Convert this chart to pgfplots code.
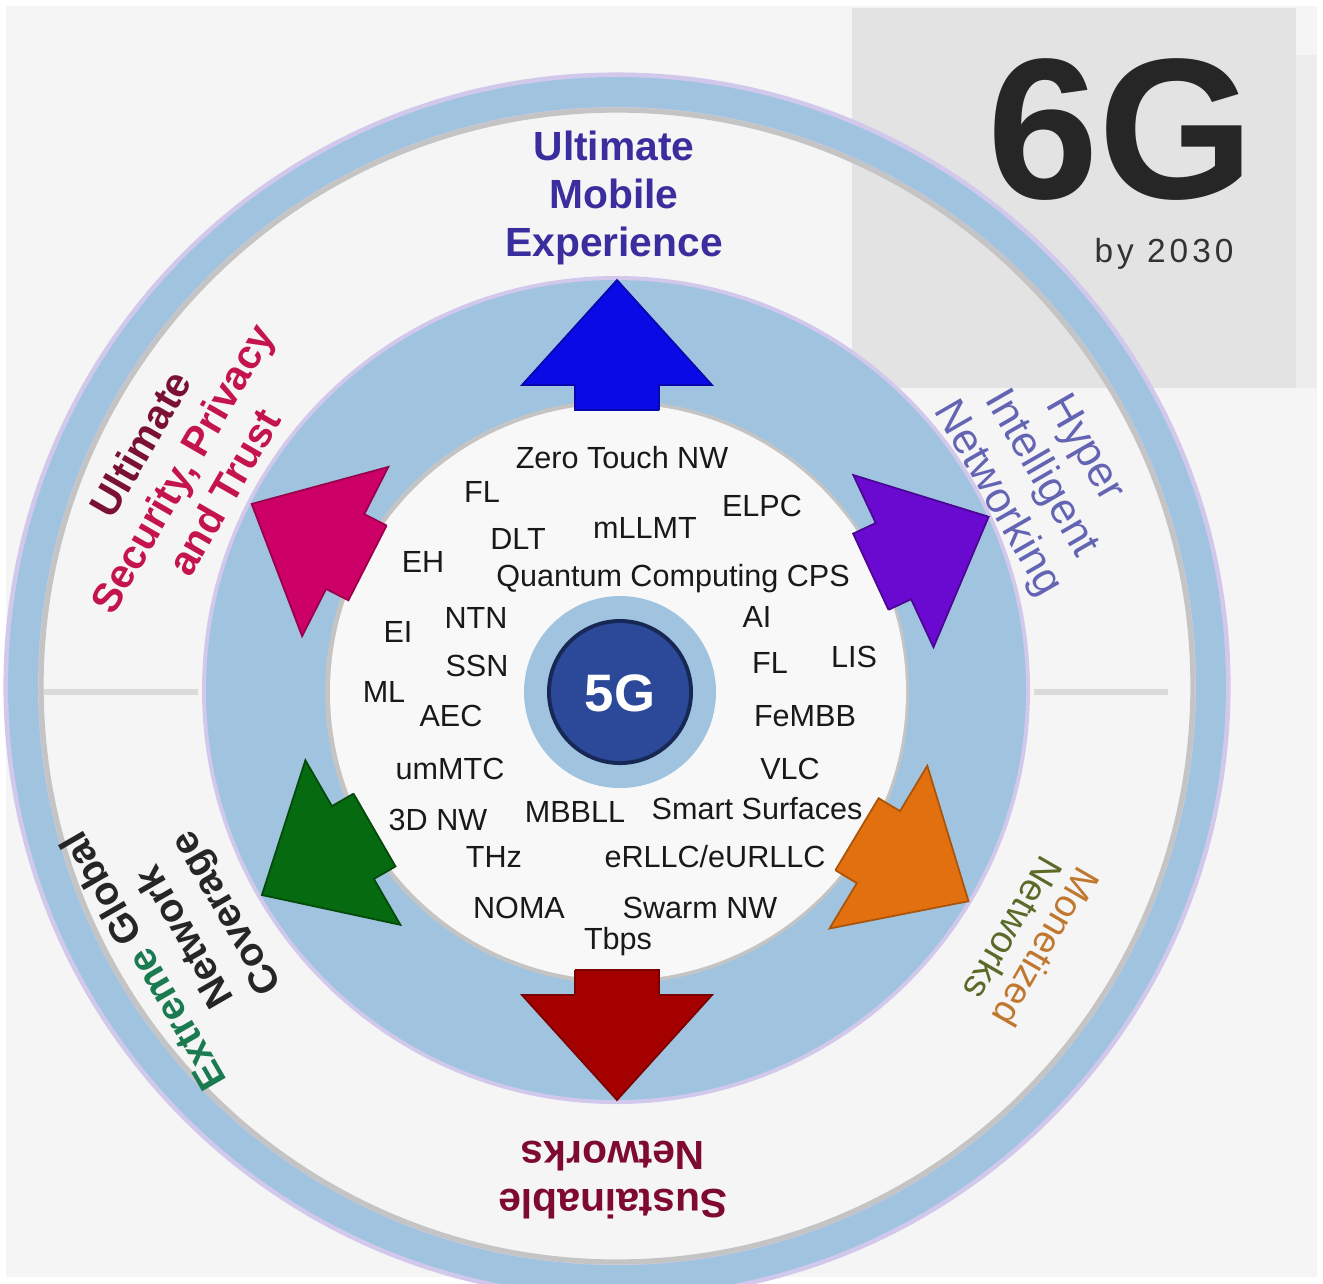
\documentclass[border=0pt]{standalone}
\usepackage{pgfplots}
\pgfplotsset{compat=1.18}
\usepackage{fontspec}
\setmainfont{Liberation Sans}
\definecolor{bgc}{HTML}{F5F5F5}
\definecolor{boxgrey}{HTML}{E3E3E3}
\definecolor{ringblue}{HTML}{A0C4E0}
\definecolor{lav}{HTML}{D2C8EC}
\definecolor{innerc}{HTML}{F8F8F8}
\definecolor{shadowgrey}{HTML}{C4C4C4}
\definecolor{linegrey}{HTML}{DADADA}
\definecolor{arrblue}{HTML}{0A0AE6}
\definecolor{arrpurple}{HTML}{6A0AD0}
\definecolor{arrorange}{HTML}{E3700F}
\definecolor{arrred}{HTML}{A40000}
\definecolor{arrgreen}{HTML}{056A10}
\definecolor{arrmagenta}{HTML}{CC0066}
\definecolor{fgblue}{HTML}{2C4899}
\definecolor{txtindigo}{HTML}{3A2E9E}
\definecolor{txtslate}{HTML}{6464B4}
\definecolor{txtcrimson}{HTML}{C4144C}
\definecolor{txtdarkred}{HTML}{7A1034}
\definecolor{txtsus}{HTML}{7E0A32}
\definecolor{txtgreen}{HTML}{1A7A50}
\definecolor{txtorange}{HTML}{C07830}
\definecolor{txtolive}{HTML}{5A6A28}
\newcommand\inn{\fontsize{8.7}{10}\selectfont}
\begin{document}
\begin{tikzpicture}
\begin{axis}[
  width=13.23cm, height=12.83cm, scale only axis,
  xmin=0, xmax=1323, ymin=0, ymax=1283, y dir=reverse,
  axis lines=none, ticks=none, clip=true,
]
% background
\fill[white] (axis cs:0,0) rectangle (axis cs:1323,1283);
\fill[bgc] (axis cs:6,6) rectangle (axis cs:1317,1277);
\fill[boxgrey] (axis cs:852,8) rectangle (axis cs:1296,388);
\fill[boxgrey!45!bgc] (axis cs:1296,55) rectangle (axis cs:1317,388);
\draw[linegrey, line width=1.7pt] (axis cs:38,692) -- (axis cs:198,692);
\draw[linegrey, line width=1.7pt] (axis cs:1034,692) -- (axis cs:1168,692);
% outer ring
\draw[lav, line width=10pt] (axis cs:617,686) circle[radius=596];
\draw[ringblue, line width=8.5pt] (axis cs:617,686) circle[radius=594];
\draw[shadowgrey, line width=1.5pt] (axis cs:617,686) circle[radius=576];
% middle band
\fill[lav] (axis cs:616,690) circle[radius=414];
\fill[ringblue] (axis cs:616,690) circle[radius=410];
\fill[shadowgrey] (axis cs:617,692) circle[radius=292];
\fill[innerc] (axis cs:618,692) circle[radius=288];

% six arrows
\addplot[fill=arrblue, draw=arrblue!75!black, line width=0.5pt, mark=none] coordinates {
(659,410) (659,385) (712,385) (617,280) (522,385) (575,385) (575,410) (659,410)};
\addplot[fill=arrpurple, draw=arrpurple!70!black, line width=0.5pt, mark=none] coordinates {
(888.5,609.8) (911.1,599.2) (933.5,647.2) (988.6,516.7) (853.3,475.0) (875.7,523.0) (853.1,533.6) (888.5,609.8)};
\addplot[fill=arrorange, draw=arrorange!75!black, line width=0.5pt, mark=none] coordinates {
(835.4,870.2) (856.8,883.1) (829.5,928.5) (968.5,901.2) (927.3,765.7) (900.0,811.1) (878.6,798.2) (835.4,870.2)};
\addplot[fill=arrred, draw=arrred!75!black, line width=0.5pt, mark=none] coordinates {
(575,970) (575,995) (522,995) (617,1100) (712,995) (659,995) (659,970) (575,970)};
\addplot[fill=arrgreen, draw=arrgreen!70!black, line width=0.5pt, mark=none] coordinates {
(353.5,793.6) (331.9,806.1) (305.4,760.2) (261.9,895.0) (400.4,924.8) (373.9,878.9) (395.5,866.4) (353.5,793.6)};
\addplot[fill=arrmagenta, draw=arrmagenta!75!black, line width=0.5pt, mark=none] coordinates {
(386.6,525.5) (364.3,514.1) (388.3,466.9) (251.7,503.9) (302.1,636.1) (326.1,588.9) (348.4,600.3) (386.6,525.5)};

% 5G centre
\fill[ringblue] (axis cs:620,692) circle[radius=96];
\fill[fgblue!55!black] (axis cs:620,692) circle[radius=73];
\fill[fgblue] (axis cs:620,692) circle[radius=69];
\node[font=\fontsize{15}{15}\selectfont\bfseries, text=white] at (axis cs:620,693) {5G};

% 6G box
\node[font=\fontsize{57}{57}\selectfont\bfseries, text=black!85] at (axis cs:1121,130) {6G};
\node[font=\fontsize{9.5}{10}\selectfont\addfontfeatures{LetterSpace=12}, text=black!80] at (axis cs:1164,254) {by 2030};

% outer labels
\node[font=\fontsize{11.6}{13.7}\selectfont\bfseries, text=txtindigo, align=center] at (axis cs:614,198) {Ultimate\\Mobile\\Experience};
\node[font=\fontsize{12.3}{14.3}\selectfont, text=txtslate, align=center, rotate=-60] at (axis cs:1040,474) {Hyper\\Intelligent\\Networking};
\node[font=\fontsize{11.6}{13.7}\selectfont\bfseries, text=txtcrimson, align=center, rotate=60] at (axis cs:182,468) {\textcolor{txtdarkred}{Ultimate}\\Security, Privacy\\and Trust};
\node[font=\fontsize{11.6}{13.7}\selectfont\bfseries, text=txtsus, align=center, rotate=180] at (axis cs:613,1180) {Sustainable\\Networks};
\node[font=\fontsize{11.3}{13.5}\selectfont\bfseries, text=black!85, align=center, rotate=120] at (axis cs:187,936) {\textcolor{txtgreen}{Extreme} Global\\Network\\Coverage};
\node[font=\fontsize{10.8}{10.8}\selectfont, align=center, rotate=-120] at (axis cs:1030,938) {\textcolor{txtorange}{Monetized}\\\textcolor{txtolive}{Networks}};

% inner technologies
\begin{scope}[every node/.style={font=\inn, text=black!90}]
\node at (axis cs:622,458) {Zero Touch NW};
\node at (axis cs:482,492) {FL};
\node at (axis cs:762,506) {ELPC};
\node at (axis cs:645,528) {mLLMT};
\node at (axis cs:518,539) {DLT};
\node at (axis cs:423,562) {EH};
\node at (axis cs:673,579) {Quantum Computing CPS};
\node at (axis cs:757,617) {AI};
\node at (axis cs:476,618) {NTN};
\node at (axis cs:398,632) {EI};
\node at (axis cs:854,657) {LIS};
\node at (axis cs:770,663) {FL};
\node at (axis cs:477,666) {SSN};
\node at (axis cs:384,692) {ML};
\node at (axis cs:451,716) {AEC};
\node at (axis cs:805,716) {FeMBB};
\node at (axis cs:450,769) {umMTC};
\node at (axis cs:790,769) {VLC};
\node at (axis cs:438,820) {3D NW};
\node at (axis cs:575,812) {MBBLL};
\node at (axis cs:757,809) {Smart Surfaces};
\node at (axis cs:494,857) {THz};
\node at (axis cs:715,857) {eRLLC/eURLLC};
\node at (axis cs:519,908) {NOMA};
\node at (axis cs:700,908) {Swarm NW};
\node at (axis cs:618,942) {Tbps};
\end{scope}
\end{axis}
\end{tikzpicture}
\end{document}
